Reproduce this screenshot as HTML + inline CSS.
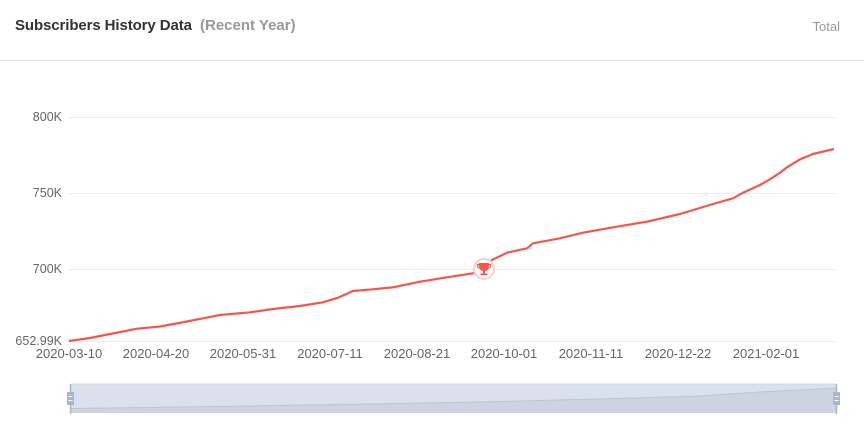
<!DOCTYPE html>
<html><head><meta charset="utf-8"><style>
html,body{margin:0;padding:0;background:#fff;}
body{width:864px;height:424px;overflow:hidden;position:relative;font-family:"Liberation Sans",sans-serif;}
svg{position:absolute;left:0;top:0;}
</style></head><body>
<svg width="864" height="424" viewBox="0 0 864 424" xmlns="http://www.w3.org/2000/svg">
<text x="15" y="30" font-family="Liberation Sans, sans-serif" font-size="15" fill="#333" font-weight="bold" style="letter-spacing:-0.1px">Subscribers History Data</text>
<text x="200" y="30" font-family="Liberation Sans, sans-serif" font-size="15" fill="#999" font-weight="bold">(Recent Year)</text>
<text x="840" y="31" text-anchor="end" font-family="Liberation Sans, sans-serif" font-size="13" fill="#999">Total</text>
<line x1="0" y1="60.5" x2="864" y2="60.5" stroke="#e6e6e6" stroke-width="1"/>
<g stroke="#ececec" stroke-width="1">
<line x1="68" y1="117.5" x2="835" y2="117.5"/>
<line x1="68" y1="193.5" x2="835" y2="193.5"/>
<line x1="68" y1="269.5" x2="835" y2="269.5"/>
<line x1="68" y1="341.5" x2="835" y2="341.5"/>
</g>
<g font-family="Liberation Sans, sans-serif" font-size="12.5" fill="#666" text-anchor="end">
<text x="62" y="121">800K</text>
<text x="62" y="197">750K</text>
<text x="62" y="273">700K</text>
<text x="62" y="345">652.99K</text>
</g>
<g font-family="Liberation Sans, sans-serif" font-size="13" fill="#666" text-anchor="middle">
<text x="69" y="358">2020-03-10</text>
<text x="156" y="358">2020-04-20</text>
<text x="243" y="358">2020-05-31</text>
<text x="330" y="358">2020-07-11</text>
<text x="417" y="358">2020-08-21</text>
<text x="504" y="358">2020-10-01</text>
<text x="591" y="358">2020-11-11</text>
<text x="678" y="358">2020-12-22</text>
<text x="766" y="358">2021-02-01</text>
</g>
<polyline fill="none" stroke="#f4564b" stroke-width="2.2" stroke-linejoin="round"
points="69,341 90,338 110,334 137,328.7 160,326.5 187,321.5 203,318.3 220,315 250,312.3 273,309 300,306 323,302.3 338,297.7 353,291 373,289.3 393,287.3 420,281.7 447,277.3 473,273.3 484,269 492,260 507,252.7 527,248.3 533,243.3 560,238.3 583,232.7 613,227.3 647,221.7 680,214 713,204 733,198.3 743,192.7 760,185 770,179.3 780,172.7 787,167.3 800,159.3 813,154 834,149"/>
<circle cx="484" cy="269" r="10" fill="#fff" stroke="#fbd0cc" stroke-width="2"/>
<g fill="#f4564b">
<path d="M479,263 h10 v3 q0,5 -5,5 q-5,0 -5,-5 z"/>
<path d="M477,264 h2 v1.5 h-1 q0,2 1.5,2.5 l-0.3,1 q-2.2,-0.8 -2.2,-3.5 z"/>
<path d="M491,264 h-2 v1.5 h1 q0,2 -1.5,2.5 l0.3,1 q2.2,-0.8 2.2,-3.5 z"/>
<rect x="483" y="270.5" width="2" height="3"/>
<rect x="480.5" y="273.5" width="7" height="1.8"/>
</g>
<rect x="71" y="384" width="766" height="29" fill="#dae1eb"/>
<path d="M71,408.5 L250,406 L480,402 L600,399 L700,396 L760,392 L837,388 L837,413 L71,413 Z" fill="#cdd4df"/>
<path d="M71,408.5 L250,406 L480,402 L600,399 L700,396 L760,392 L837,388" fill="none" stroke="#bcc5d3" stroke-width="1"/>
<line x1="71" y1="384" x2="837" y2="384" stroke="#d2d8e2" stroke-width="1"/>
<line x1="70.5" y1="384" x2="70.5" y2="414" stroke="#a9b6cb" stroke-width="1.5"/>
<line x1="836.5" y1="384" x2="836.5" y2="414" stroke="#a9b6cb" stroke-width="1.5"/>
<rect x="67" y="392" width="7" height="13" fill="#a9b6cb"/>
<rect x="833" y="392" width="7" height="13" fill="#a9b6cb"/>
<g stroke="#fff" stroke-width="1">
<line x1="68.5" y1="396.5" x2="72.5" y2="396.5"/><line x1="68.5" y1="400.5" x2="72.5" y2="400.5"/>
<line x1="834.5" y1="396.5" x2="838.5" y2="396.5"/><line x1="834.5" y1="400.5" x2="838.5" y2="400.5"/>
</g>
</svg>
</body></html>
